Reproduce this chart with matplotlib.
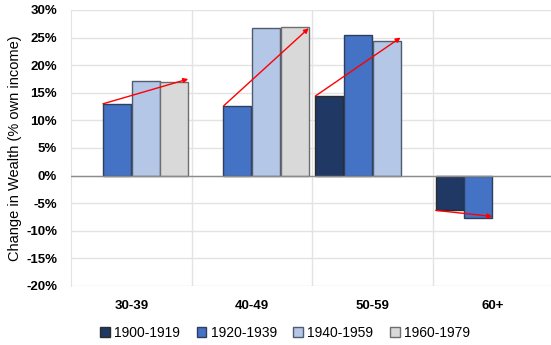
import matplotlib
matplotlib.use("Agg")
import matplotlib.pyplot as plt
import numpy as np

plt.rcParams['font.family'] = ['Liberation Sans', 'DejaVu Sans']

categories = ["30-39", "40-49", "50-59", "60+"]
series_names = ["1900-1919", "1920-1939", "1940-1959", "1960-1979"]
# values in percent; None = no bar
s1900 = [None, None, 14.4, -6.3]
s1920 = [13.0, 12.6, 25.5, -7.7]
s1940 = [17.15, 26.75, 24.4, None]
s1960 = [16.95, 26.9, None, None]
colors = ["#203864", "#4472C4", "#B4C7E7", "#D9D9D9"]
edges = ["#2B2B2B", "#2F3E5C", "#4F5B6E", "#6E6E6E"]

# trend arrows: (first series index, last series index, start value, end value)
arrow_first = [1, 1, 0, 0]
arrow_last = [3, 3, 2, 1]
arrow_start = [13.0, 12.6, 14.4, -6.3]
arrow_end = [17.5, 26.7, 25.0, -7.4]

yticks = [-20, -15, -10, -5, 0, 5, 10, 15, 20, 25, 30]

W, H = 551, 345
fig = plt.figure(figsize=(W / 100, H / 100), dpi=100)
left, right = 71, 553
top, bottom = 10, 286
ax = fig.add_axes([left / W, 1 - bottom / H, (right - left) / W, (bottom - top) / H])

x = np.arange(len(categories))
slot = 0.238
bw = 0.232
all_series = [s1900, s1920, s1940, s1960]
for i, s in enumerate(all_series):
    xs = [xi + (i - 1.5) * slot for xi, v in zip(x, s) if v is not None]
    vs = [v for v in s if v is not None]
    ax.bar(xs, vs, width=bw, color=colors[i], edgecolor=edges[i], linewidth=1.0,
           label=series_names[i], zorder=3)

for k in range(len(categories)):
    x0 = x[k] + (arrow_first[k] - 1.5) * slot - bw / 2
    x1 = x[k] + (arrow_last[k] - 1.5) * slot + bw / 2
    ax.annotate("", xy=(x1, arrow_end[k]), xytext=(x0, arrow_start[k]),
                arrowprops=dict(arrowstyle='-|>', color='#FF0000', lw=1.0,
                                mutation_scale=7, shrinkA=0, shrinkB=0),
                zorder=5)

ax.set_xlim(-0.5, 3.5)
ax.set_ylim(-20, 30)
ax.set_yticks(yticks)
ax.set_yticklabels([f"{t}%" for t in yticks], fontsize=9.5, fontweight='bold')
ax.set_xticks(x)
ax.set_xticklabels(categories, fontsize=9.5, fontweight='bold')
ax.tick_params(axis='both', length=0)
ax.tick_params(axis='x', pad=10)
ax.tick_params(axis='y', pad=10)

for yv in yticks:
    ax.axhline(yv, color='#E3E3E3', lw=1, zorder=0)
for xv in [0.5, 1.5, 2.5]:
    ax.axvline(xv, color='#E3E3E3', lw=1, zorder=0)
ax.axhline(0, color='#8C8C8C', lw=1, zorder=4)
for sp in ['top', 'right', 'bottom']:
    ax.spines[sp].set_visible(False)
ax.spines['left'].set_color('#E3E3E3')

ax.set_ylabel("Change in Wealth (% own income)", fontsize=10.5, labelpad=3)

handles, labels = ax.get_legend_handles_labels()
leg = fig.legend(handles, labels, loc='center', bbox_to_anchor=(285 / W, 1 - 333 / H),
                 ncol=4, frameon=False, fontsize=10, handlelength=0.7, handleheight=0.7,
                 handletextpad=0.3, columnspacing=1.2)

fig.savefig("out.png", dpi=100)
